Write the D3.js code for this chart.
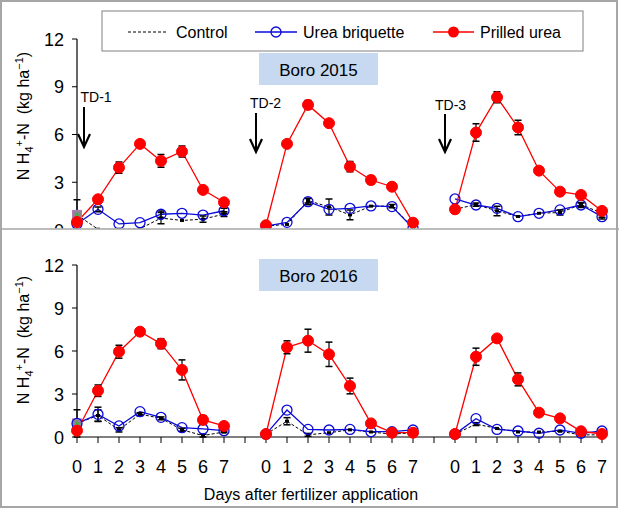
<!DOCTYPE html>
<html><head><meta charset="utf-8">
<script src="https://cdn.jsdelivr.net/npm/d3@7"></script>
<style>body{margin:0;background:#fff}svg{display:block;font-family:Arial,"Liberation Sans",sans-serif}</style>
</head><body><svg id="c" width="619" height="509"></svg>
<script>
// ---- data ----
const days = [0,1,2,3,4,5,6,7];
const events = ["TD-1","TD-2","TD-3"];
const yTicks = [0,3,6,9,12];
const seriesNames = ["Control","Urea briquette","Prilled urea"];
const panelTitles = ["Boro 2015","Boro 2016"];

// values: 3 events x 8 days
const control2015 = [0.95,0.05,0.05,0.08,0.75,0.6,0.68,1.0,  0.25,0.35,1.85,1.45,0.95,1.5,1.5,0.15,  1.3,1.6,1.2,0.85,1.05,1.1,1.6,1.05];
const controlErr2015 = [0.95,0,0,0,0.35,0,0.2,0.15,  0,0,0.15,0.5,0.3,0,0.1,0,  0.1,0.1,0.3,0,0,0.15,0.1,0.25];
const urea2015 = [0.38,1.3,0.38,0.46,0.99,1.05,0.94,1.21,  0.25,0.48,1.78,1.3,1.36,1.51,1.47,0.12,  1.95,1.57,1.36,0.84,1.05,1.26,1.57,0.84];
const ureaErr2015 = [0,0.15,0,0,0.2,0,0,0.15,  0,0,0.2,0,0,0,0,0,  0,0,0,0,0,0,0.15,0.15];
const prilled2015 = [0.5,1.93,3.92,5.41,4.34,4.93,2.52,1.74,  0.3,5.41,7.86,6.71,3.98,3.14,2.72,0.46,  1.3,6.12,8.34,6.44,3.73,2.41,2.2,1.2];
const prilledErr2015 = [0,0.1,0.35,0.1,0.4,0.35,0.15,0.12,  0,0.05,0.28,0.05,0.32,0.25,0.05,0,  0.1,0.55,0.35,0.45,0,0,0,0.1];

const control2016 = [0.95,1.5,0.5,1.6,1.3,0.5,0.1,0.35,  0.2,1.1,0.15,0.3,0.5,0.35,0.2,0.3,  0.2,0.9,0.6,0.35,0.35,0.4,0.15,0.15];
const controlErr2016 = [0.95,0.4,0.15,0.1,0.1,0.1,0.1,0.05,  0,0.25,0.1,0,0,0,0,0,  0,0.1,0,0,0,0,0,0];
const urea2016 = [0.95,1.58,0.77,1.77,1.37,0.65,0.56,0.44,  0.2,1.88,0.53,0.49,0.53,0.37,0.37,0.49,  0.2,1.28,0.53,0.42,0.26,0.49,0.26,0.42];
const ureaErr2016 = [0,0.5,0,0,0,0,0,0,  0,0,0,0,0,0,0,0,  0,0,0,0,0,0,0,0];
const prilled2016 = [0.44,3.23,5.95,7.35,6.51,4.68,1.19,0.77,  0.21,6.26,6.72,5.77,3.56,0.95,0.3,0.3,  0.21,5.6,6.88,4.02,1.7,1.3,0.4,0.21];
const prilledErr2016 = [0,0.4,0.45,0.2,0.35,0.7,0.3,0.1,  0,0.45,0.8,0.85,0.55,0,0,0,  0,0.6,0.1,0.45,0,0,0,0];

// ---- drawing ----
const svg = d3.select("#c");
const pos = (e,d) => e*9 + d;
const x = d3.scaleLinear().domain([0,25]).range([77,602]);
const blue = "#0a0ad8", red = "#ff0000";

svg.append("rect").attr("x",1).attr("y",1).attr("width",616).attr("height",506)
  .attr("fill","none").attr("stroke","#a6a6a6").attr("stroke-width",2);

const defs = svg.append("defs");
defs.append("clipPath").attr("id","clipTop").append("rect")
  .attr("x",0).attr("y",0).attr("width",619).attr("height",228.5);

function drawPanel(g, y, data, title, boxY, labelY, showXAxis){
  const [ctrl, ctrlE, urea, ureaE, pril, prilE] = data;
  g.append("line").attr("x1",x(0)).attr("x2",x(0)).attr("y1",y(12)).attr("y2",y(0)+ (showXAxis?0:2))
    .attr("stroke","#000").attr("stroke-width",1.2);
  yTicks.forEach(t=>{
    if(t>0 || showXAxis){
      g.append("line").attr("x1",x(0)-5).attr("x2",x(0)).attr("y1",y(t)).attr("y2",y(t)).attr("stroke","#000");
    }
    g.append("text").attr("x",x(0)-13).attr("y",y(t)+6.5).attr("text-anchor","end")
      .attr("font-size",18).text(t);
  });
  if(showXAxis){
    g.append("line").attr("x1",x(0)).attr("x2",x(25)+4).attr("y1",y(0)).attr("y2",y(0))
      .attr("stroke","#000").attr("stroke-width",1.2);
    d3.range(0,26).forEach(i=>{
      g.append("line").attr("x1",x(i)).attr("x2",x(i)).attr("y1",y(0)).attr("y2",y(0)+6).attr("stroke","#000");
    });
    events.forEach((ev,e)=>days.forEach(d=>{
      g.append("text").attr("x",x(pos(e,d))).attr("y",y(0)+36).attr("text-anchor","middle")
        .attr("font-size",18).text(d);
    }));
  }
  const lab = g.append("text").attr("transform",`translate(29,${labelY}) rotate(-90)`)
    .attr("text-anchor","middle").attr("font-size",16);
  lab.append("tspan").text("N H");
  lab.append("tspan").attr("font-size",11).attr("dy",4).text("4");
  lab.append("tspan").attr("font-size",11).attr("dy",-10).text("+");
  lab.append("tspan").attr("dy",6).text("-N\u00a0\u00a0(kg ha");
  lab.append("tspan").attr("font-size",11).attr("dy",-6).text("\u22121");
  lab.append("tspan").attr("dy",6).text(")");
  const bx = x(9)-7, bw = 119;
  g.append("rect").attr("x",bx).attr("y",boxY).attr("width",bw).attr("height",32).attr("fill","#c6d9f1");
  g.append("text").attr("x",bx+bw/2).attr("y",boxY+23).attr("text-anchor","middle").attr("font-size",17).text(title);

  const plot = g.append("g");
  events.forEach((ev,e)=>{
    const idx = days.map(d=>e*8+d);
    const mk = (arr)=>idx.map((k,j)=>({px:x(pos(e,j)), v:arr[k], k}));
    const line = d3.line().x(p=>p.px).y(p=>y(p.v));
    plot.append("path").attr("d",line(mk(ctrl))).attr("fill","none").attr("stroke","#000")
      .attr("stroke-width",1).attr("stroke-dasharray","3,2");
    plot.append("path").attr("d",line(mk(urea))).attr("fill","none").attr("stroke",blue).attr("stroke-width",1.3);
    plot.append("path").attr("d",line(mk(pril))).attr("fill","none").attr("stroke",red).attr("stroke-width",1.3);
    [[ctrl,ctrlE],[urea,ureaE],[pril,prilE]].forEach(([vals,errs])=>{
      mk(vals).forEach(p=>{
        const er = errs[p.k]; if(!er) return;
        const y1 = y(p.v-er), y2 = y(p.v+er);
        plot.append("line").attr("x1",p.px).attr("x2",p.px).attr("y1",y1).attr("y2",y2).attr("stroke","#000").attr("stroke-width",1.2);
        [y1,y2].forEach(yy=>plot.append("line").attr("x1",p.px-3.5).attr("x2",p.px+3.5).attr("y1",yy).attr("y2",yy).attr("stroke","#000").attr("stroke-width",1.5));
      });
    });
    mk(ctrl).forEach(p=>{
      if(p.k===0){
        plot.append("rect").attr("x",p.px-4.5).attr("y",y(p.v)-4.5).attr("width",9).attr("height",9)
          .attr("fill","#8e8592").attr("stroke","#b57ab8").attr("stroke-width",1);
        plot.append("circle").attr("cx",p.px).attr("cy",y(p.v)).attr("r",1.8).attr("fill","#3cb043");
      } else {
        plot.append("rect").attr("x",p.px-2).attr("y",y(p.v)-1.5).attr("width",4).attr("height",3).attr("fill","#000");
      }
    });
    mk(urea).forEach(p=>plot.append("circle").attr("cx",p.px).attr("cy",y(p.v)).attr("r",5)
      .attr("fill","none").attr("stroke",blue).attr("stroke-width",1.3));
    mk(pril).forEach(p=>plot.append("circle").attr("cx",p.px).attr("cy",y(p.v)).attr("r",5.5)
      .attr("fill",red).attr("stroke",red));
  });
  return plot;
}

const topPanel = svg.append("g").attr("clip-path","url(#clipTop)");
const yTop = d3.scaleLinear().domain([0,12]).range([230,39]);
drawPanel(topPanel, yTop, [control2015,controlErr2015,urea2015,ureaErr2015,prilled2015,prilledErr2015], panelTitles[0], 53, 116, false);

const botPanel = svg.append("g");
const yBot = d3.scaleLinear().domain([0,12]).range([437,265]);
drawPanel(botPanel, yBot, [control2016,controlErr2016,urea2016,ureaErr2016,prilled2016,prilledErr2016], panelTitles[1], 259, 340, true);

svg.append("line").attr("x1",0).attr("x2",619).attr("y1",229).attr("y2",229).attr("stroke","#a6a6a6").attr("stroke-width",1.5);

const tdArrows = [{e:0, lx:x(0)+3.5, ly:102, ax:x(0)+7, a1:107, a2:147},
                  {e:1, lx:x(8)+5, ly:108, ax:x(8)+11, a1:113, a2:152},
                  {e:2, lx:x(17)+1, ly:110, ax:x(17)+11, a1:114, a2:152}];
tdArrows.forEach(t=>{
  svg.append("text").attr("x",t.lx).attr("y",t.ly).attr("font-size",14).text(events[t.e]);
  svg.append("line").attr("x1",t.ax).attr("x2",t.ax).attr("y1",t.a1).attr("y2",t.a2-1).attr("stroke","#000").attr("stroke-width",2);
  svg.append("path").attr("d",`M${t.ax-6},${t.a2-13} L${t.ax},${t.a2} L${t.ax+6},${t.a2-13}`)
    .attr("fill","none").attr("stroke","#000").attr("stroke-width",2.2);
});

const lg = svg.append("g");
lg.append("rect").attr("x",102).attr("y",11).attr("width",481).attr("height",40)
  .attr("fill","#fff").attr("stroke","#808080").attr("stroke-width",1);
const lgItems = [{x1:128,x2:167,tx:176},{x1:255,x2:297,tx:303},{x1:433,x2:474,tx:480}];
lgItems.forEach((it,i)=>{
  const ly = 32;
  const ln = lg.append("line").attr("x1",it.x1).attr("x2",it.x2).attr("y1",ly).attr("y2",ly);
  if(i===0) ln.attr("stroke","#000").attr("stroke-dasharray","3,2").attr("stroke-width",1);
  if(i===1){ ln.attr("stroke",blue).attr("stroke-width",1.3);
    lg.append("circle").attr("cx",(it.x1+it.x2)/2).attr("cy",ly).attr("r",5).attr("fill","none").attr("stroke",blue).attr("stroke-width",1.3); }
  if(i===2){ ln.attr("stroke",red).attr("stroke-width",1.3);
    lg.append("circle").attr("cx",(it.x1+it.x2)/2).attr("cy",ly).attr("r",5.5).attr("fill",red); }
  lg.append("text").attr("x",it.tx).attr("y",ly+6).attr("font-size",16).text(seriesNames[i]);
});

svg.append("text").attr("x",311).attr("y",500).attr("text-anchor","middle").attr("font-size",16)
  .text("Days after fertilizer application");
</script></body></html>
